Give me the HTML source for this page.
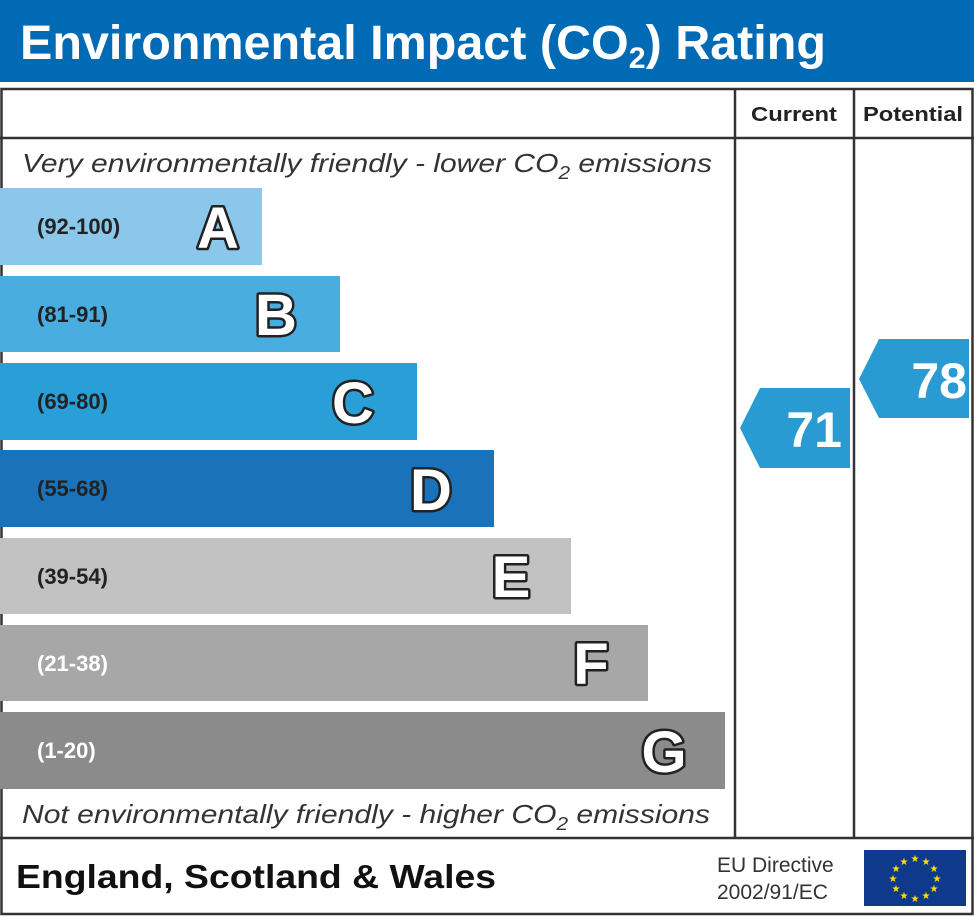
<!DOCTYPE html>
<html><head><meta charset="utf-8"><style>body{margin:0;background:#fff}svg{display:block}</style></head><body>
<svg width="974" height="917" xmlns="http://www.w3.org/2000/svg" font-family="Liberation Sans, sans-serif">
<rect x="0" y="0" width="974" height="82" fill="#006ab4"/>
<text x="20" y="59" fill="#fff" font-size="48" font-weight="bold" textLength="806" lengthAdjust="spacingAndGlyphs">Environmental Impact (CO<tspan font-size="30" dy="9">2</tspan><tspan dy="-9">) Rating</tspan></text>
<g fill="none" stroke="#333" stroke-width="2.5">
<rect x="1.5" y="89" width="971" height="825"/>
<line x1="0" y1="138" x2="974" y2="138"/>
<line x1="0" y1="838" x2="974" y2="838"/>
<line x1="735" y1="89" x2="735" y2="838"/>
<line x1="854" y1="89" x2="854" y2="838"/>
</g>
<text x="794" y="121" font-size="20" font-weight="bold" text-anchor="middle" fill="#222" textLength="86" lengthAdjust="spacingAndGlyphs">Current</text>
<text x="913" y="121" font-size="20" font-weight="bold" text-anchor="middle" fill="#222" textLength="100" lengthAdjust="spacingAndGlyphs">Potential</text>
<text x="22" y="172" font-size="26" font-style="italic" fill="#333" textLength="690" lengthAdjust="spacingAndGlyphs">Very environmentally friendly - lower CO<tspan font-size="18" dy="7">2</tspan><tspan dy="-7"> emissions</tspan></text>
<text x="22" y="823" font-size="26" font-style="italic" fill="#333" textLength="688" lengthAdjust="spacingAndGlyphs">Not environmentally friendly - higher CO<tspan font-size="18" dy="7">2</tspan><tspan dy="-7"> emissions</tspan></text>
<g font-weight="bold">
<rect x="0" y="188" width="262" height="77" fill="#8bc7ea"/>
<text x="37" y="234" font-size="22" fill="#222">(92-100)</text>
<rect x="0" y="276" width="340" height="76" fill="#49ade0"/>
<text x="37" y="322" font-size="22" fill="#222">(81-91)</text>
<rect x="0" y="363" width="417" height="77" fill="#2a9ed6"/>
<text x="37" y="409" font-size="22" fill="#222">(69-80)</text>
<rect x="0" y="450" width="494" height="77" fill="#1a73ba"/>
<text x="37" y="496" font-size="22" fill="#222">(55-68)</text>
<rect x="0" y="538" width="571" height="76" fill="#c2c2c2"/>
<text x="37" y="584" font-size="22" fill="#222">(39-54)</text>
<rect x="0" y="625" width="648" height="76" fill="#a7a7a7"/>
<text x="37" y="671" font-size="22" fill="#fff">(21-38)</text>
<rect x="0" y="712" width="725" height="77" fill="#8b8b8b"/>
<text x="37" y="758" font-size="22" fill="#fff">(1-20)</text>
<g font-size="58" fill="#fff" stroke="#222" stroke-width="5" paint-order="stroke" stroke-linejoin="round" text-anchor="middle">
<text x="218" y="248">A</text>
<text x="276" y="335">B</text>
<text x="353" y="423">C</text>
<text x="431" y="510">D</text>
<text x="511" y="597">E</text>
<text x="591" y="684">F</text>
<text x="664" y="772">G</text>
</g>
</g>
<polygon points="740,428 760,388 850,388 850,468 760,468" fill="#2a9ad2"/>
<text x="842" y="447" font-size="50" font-weight="bold" fill="#fff" text-anchor="end">71</text>
<polygon points="859,379 879,339 969,339 969,418 879,418" fill="#2a9ad2"/>
<text x="967" y="398" font-size="50" font-weight="bold" fill="#fff" text-anchor="end">78</text>
<text x="16" y="888" font-size="33" font-weight="bold" fill="#111" textLength="480" lengthAdjust="spacingAndGlyphs">England, Scotland &amp; Wales</text>
<text x="717" y="872" font-size="21" fill="#333">EU Directive</text>
<text x="717" y="899" font-size="21" fill="#333">2002/91/EC</text>
<rect x="864" y="850" width="102" height="56" fill="#0f3a8c"/>
<g fill="#ffdd00" font-size="10" text-anchor="middle">
<text x="915" y="862">★</text><text x="926" y="865">★</text><text x="934" y="872">★</text><text x="937" y="882">★</text><text x="934" y="892">★</text><text x="926" y="899">★</text><text x="915" y="902">★</text><text x="904" y="899">★</text><text x="896" y="892">★</text><text x="893" y="882">★</text><text x="896" y="872">★</text><text x="904" y="865">★</text>
</g>
</svg>
</body></html>
